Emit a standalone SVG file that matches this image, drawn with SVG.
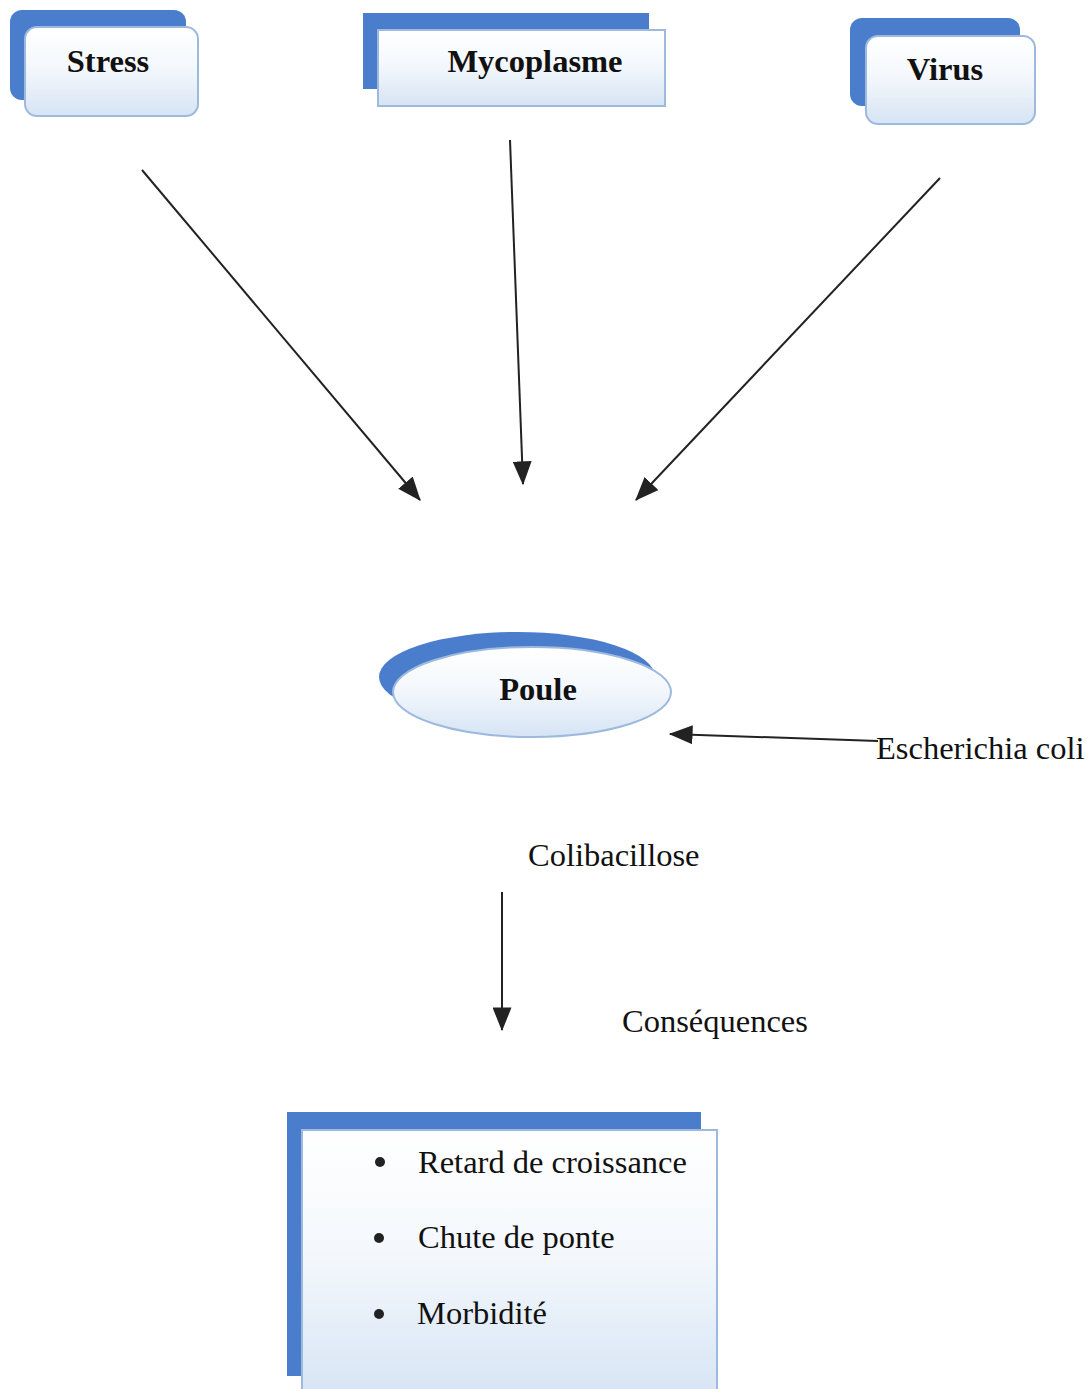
<svg xmlns="http://www.w3.org/2000/svg" width="1088" height="1389" viewBox="0 0 1088 1389">
<defs>
<linearGradient id="g" x1="0" y1="0" x2="0" y2="1">
<stop offset="0" stop-color="#ffffff"/>
<stop offset="0.45" stop-color="#f4f8fc"/>
<stop offset="1" stop-color="#d6e4f4"/>
</linearGradient>
<marker id="ahL" viewBox="0 0 20 16" refX="19" refY="8" markerWidth="24" markerHeight="19" markerUnits="userSpaceOnUse" orient="auto">
<path d="M0,0 L20,8 L0,16 z" fill="#222"/>
</marker>
</defs>
<style>
.back{fill:#4a7dcc;}
.front{fill:url(#g);stroke:#9db9de;stroke-width:2;}
.lbl{font-family:"Liberation Serif",serif;font-weight:bold;font-size:32.5px;fill:#111;text-anchor:middle;}
.txt{font-family:"Liberation Serif",serif;font-size:32.5px;fill:#111;}
.conn{stroke:#222;stroke-width:2;fill:none;}
</style>
<rect width="1088" height="1389" fill="#fff"/>
<g id="stress">
<rect class="back" x="10" y="10" width="176" height="90" rx="12"/>
<rect class="front" x="25" y="27" width="173" height="89" rx="12"/>
<text class="lbl" x="108" y="72">Stress</text>
</g>
<g id="mycoplasme">
<rect class="back" x="363" y="13" width="286" height="76"/>
<rect class="front" x="378" y="30" width="287" height="76"/>
<text class="lbl" x="535" y="72">Mycoplasme</text>
</g>
<g id="virus">
<rect class="back" x="850" y="18" width="170" height="88" rx="12"/>
<rect class="front" x="866" y="36" width="169" height="88" rx="12"/>
<text class="lbl" x="945" y="80">Virus</text>
</g>
<g id="poule">
<ellipse class="back" cx="517" cy="677" rx="138" ry="45"/>
<ellipse class="front" cx="532" cy="692" rx="139" ry="45"/>
<text class="lbl" x="538" y="700">Poule</text>
</g>
<g id="escherichia">
<text class="txt" x="876" y="759">Escherichia coli</text>
</g>
<g id="colibacillose">
<text class="txt" x="528" y="866">Colibacillose</text>
</g>
<g id="consequences">
<text class="txt" x="622" y="1032">Conséquences</text>
</g>
<g id="effets">
<rect class="back" x="287" y="1112" width="414" height="264"/>
<rect class="front" x="302" y="1130" width="415" height="270"/>
<circle cx="380" cy="1162" r="5" fill="#222"/>
<circle cx="379" cy="1238" r="5" fill="#222"/>
<circle cx="379" cy="1314" r="5" fill="#222"/>
<text class="txt" x="418" y="1173">Retard de croissance</text>
<text class="txt" x="418" y="1248">Chute de ponte</text>
<text class="txt" x="417" y="1324">Morbidité</text>
</g>
<g id="connectors">
<line class="conn" x1="142" y1="170" x2="420" y2="500" marker-end="url(#ahL)"/>
<line class="conn" x1="510" y1="140" x2="523" y2="484" marker-end="url(#ahL)"/>
<line class="conn" x1="940" y1="178" x2="636" y2="500" marker-end="url(#ahL)"/>
<line class="conn" x1="878" y1="741" x2="670" y2="734" marker-end="url(#ahL)"/>
<line class="conn" x1="502" y1="892" x2="502" y2="1030" marker-end="url(#ahL)"/>
</g>
</svg>
